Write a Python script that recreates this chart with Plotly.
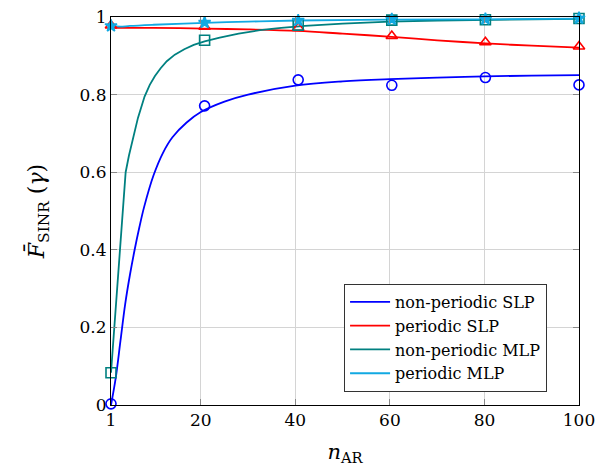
import plotly.graph_objects as go

# marker positions
n_mark = [1, 20.8, 40.6, 60.4, 80.2, 100]
np_slp_mark = [0.003, 0.771, 0.838, 0.824, 0.844, 0.825]
p_slp_mark = [0.978, 0.975, 0.972, 0.951, 0.935, 0.924]
np_mlp_mark = [0.083, 0.940, 0.979, 0.992, 0.993, 0.996]
p_mlp_mark = [0.977, 0.986, 0.991, 0.994, 0.995, 0.997]

# smooth curves
np_slp_n = [1, 2, 3, 4, 5, 6, 7, 8, 10, 12, 14, 17, 20, 25, 30, 40, 50, 60, 70, 80, 90, 100]
np_slp_y = [0.0, 0.070, 0.165, 0.260, 0.335, 0.400, 0.458, 0.510, 0.592, 0.650, 0.690, 0.728,
            0.755, 0.782, 0.800, 0.823, 0.834, 0.840, 0.844, 0.847, 0.849, 0.850]

p_slp_n = [1, 10, 20.8, 30, 40.6, 50, 60.4, 70, 80.2, 90, 100]
p_slp_y = [0.972, 0.972, 0.970, 0.968, 0.964, 0.957, 0.949, 0.940, 0.932, 0.926, 0.921]

np_mlp_n = [1, 4.1, 4.8, 5.65, 6.7, 8.1, 9.2, 10.3, 11.5, 12.8, 14.5, 16.5, 18.5, 20.8, 24, 28,
            32.5, 37, 42, 50, 60, 70, 80, 90, 100]
np_mlp_y = [0.083, 0.600, 0.643, 0.690, 0.740, 0.795, 0.825, 0.848, 0.868, 0.886, 0.903, 0.917,
            0.928, 0.937, 0.947, 0.957, 0.966, 0.972, 0.977, 0.983, 0.988, 0.991, 0.993, 0.994, 0.995]

p_mlp_n = [1, 3, 5, 10, 20.8, 30, 40.6, 60, 80, 100]
p_mlp_y = [0.977, 0.975, 0.977, 0.980, 0.985, 0.988, 0.991, 0.993, 0.994, 0.996]

names = ["non-periodic SLP", "periodic SLP", "non-periodic MLP", "periodic MLP"]
colors = ["#0000ff", "#ff0000", "#008080", "#12a9e2"]

fig = go.Figure()

curves = [(np_slp_n, np_slp_y, "spline"), (p_slp_n, p_slp_y, "spline"),
          (np_mlp_n, np_mlp_y, "linear"), (p_mlp_n, p_mlp_y, "spline")]
for (xs, ys, shp), nm, c in zip(curves, names, colors):
    fig.add_trace(go.Scatter(x=xs, y=ys, mode="lines", name=nm,
                             line=dict(color=c, width=1.8, shape=shp), cliponaxis=False))

marks = [(np_slp_mark, "circle-open", 10), (p_slp_mark, "triangle-up-open", 10),
         (np_mlp_mark, "square-open", 10), (p_mlp_mark, "star", 9)]
for (ys, sym, sz), c in zip(marks, colors):
    fig.add_trace(go.Scatter(x=n_mark, y=ys, mode="markers", showlegend=False,
                             marker=dict(symbol=sym, size=sz, color=c,
                                         line=dict(color=c, width=1.6)),
                             cliponaxis=False))

font = "'DejaVu Serif', 'Liberation Serif', serif"
axis_common = dict(showline=True, linecolor="black", linewidth=1, mirror="allticks",
                   ticks="inside", ticklen=6, tickcolor="#888888", automargin=False,
                   showgrid=True, gridcolor="#d4d4d4", gridwidth=1, zeroline=False,
                   tickfont=dict(family=font, size=17, color="black"))

fig.update_xaxes(range=[1, 100], tickvals=[1, 20, 40, 60, 80, 100],
                 ticktext=["1", "20", "40", "60", "80", "100"],
                 title=dict(text="<i>n</i><sub>AR</sub>", font=dict(family=font, size=21, color="black"),
                            standoff=14),
                 **axis_common)
fig.update_yaxes(range=[0, 1], tickvals=[0, 0.2, 0.4, 0.6, 0.8, 1],
                 ticktext=["0", "0.2", "0.4", "0.6", "0.8", "1"],
                 title=dict(text="<i>F̄</i><sub>SINR</sub> (<i>γ</i>)",
                            font=dict(family=font, size=22, color="black"), standoff=28),
                 **axis_common)

fig.update_layout(
    width=600, height=467,
    margin=dict(l=111, r=21, t=17, b=62, autoexpand=False),
    plot_bgcolor="white", paper_bgcolor="white",
    legend=dict(x=0.498, y=0.312, xanchor="left", yanchor="top",
                bgcolor="white", bordercolor="#333333", borderwidth=1,
                font=dict(family=font, size=16, color="black"),
                itemwidth=40, tracegroupgap=0),
)

fig.write_html("out.html")
